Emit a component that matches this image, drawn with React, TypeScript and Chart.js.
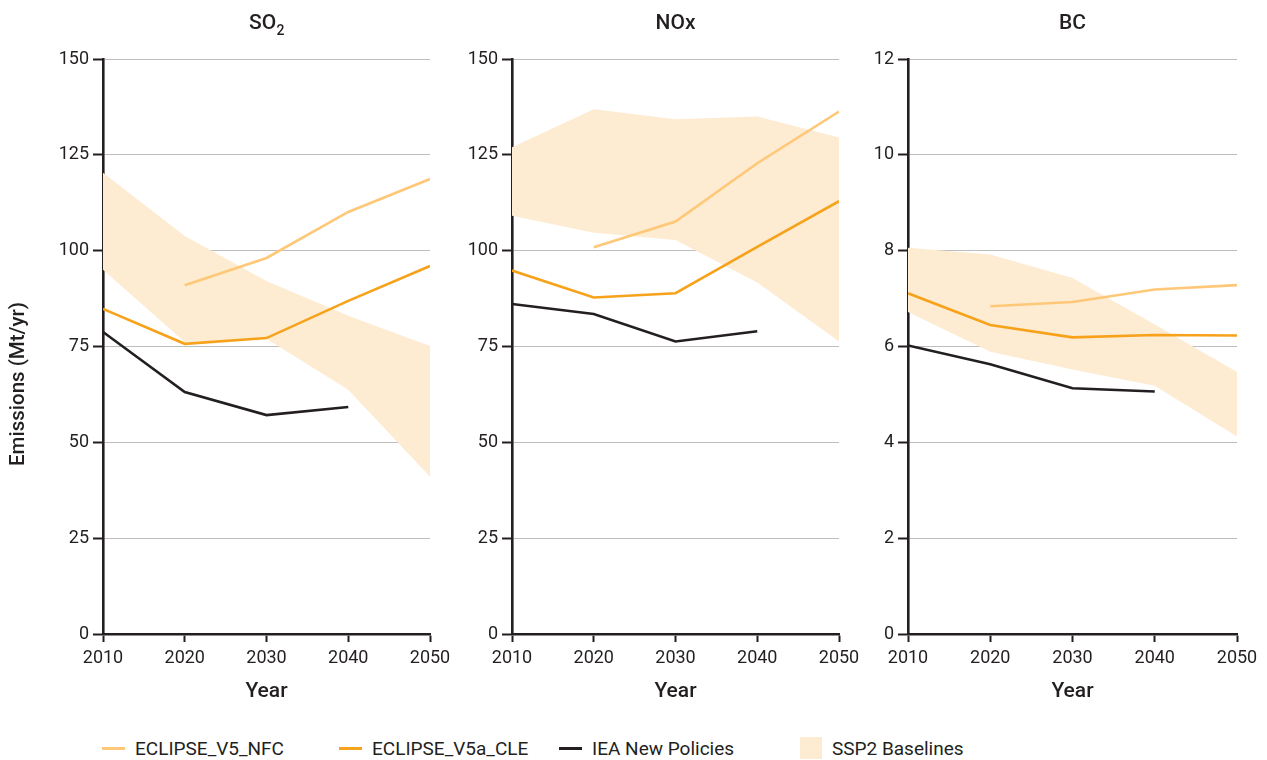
import React, { useEffect, useRef } from 'react';
import { Chart, registerables } from 'chart.js';

Chart.register(...registerables);

// ---------- data ----------
const years = [2010, 2020, 2030, 2040, 2050];

const so2Nfc = [null, 91.0, 98.1, 110.1, 118.7];
const so2Cle = [84.8, 75.7, 77.2, 86.9, 96.0];
const so2Iea = [78.8, 63.1, 57.1, 59.2, null];
const so2SspHigh = [120.3, 103.8, 92.1, 83.0, 75.1];
const so2SspLow = [95.0, 76.2, 77.0, 63.7, 41.0];

const noxNfc = [null, 100.9, 107.6, 122.8, 136.3];
const noxCle = [94.8, 87.8, 88.9, 101.0, 112.9];
const noxIea = [86.1, 83.5, 76.3, 79.0, null];
const noxSspHigh = [127.0, 136.9, 134.3, 135.0, 129.5];
const noxSspLow = [109.1, 104.7, 102.8, 91.7, 76.3];

const bcNfc = [null, 6.84, 6.93, 7.19, 7.28];
const bcCle = [7.11, 6.45, 6.19, 6.24, 6.23];
const bcIea = [6.02, 5.63, 5.13, 5.06, null];
const bcSspHigh = [8.06, 7.92, 7.43, 6.46, 5.47];
const bcSspLow = [6.72, 5.89, 5.52, 5.18, 4.12];

const seriesNames = ['ECLIPSE_V5_NFC', 'ECLIPSE_V5a_CLE', 'IEA New Policies', 'SSP2 Baselines'];
const panelTitles = ['SO', 'NOx', 'BC'];
const yAxisTitle = 'Emissions (Mt/yr)';
const xAxisTitle = 'Year';

// ---------- styles ----------
const TEXT = '#231F20';
const C_NFC = '#FFC878';
const C_CLE = '#F7A21B';
const C_IEA = '#231F20';
const C_BAND = '#FDEBD2';
const GRID = '#BDBDBD';
const FONT = 'Roboto, "Noto Sans", sans-serif';

const pts = (vals: (number | null)[]) =>
  years.map((x, i) => ({ x, y: vals[i] })).filter((p) => p.y !== null) as { x: number; y: number }[];

const titlePlugin = {
  id: 'panelDecor',
  afterDraw(chart: any, _args: any, opts: any) {
    const { ctx, chartArea } = chart;
    const cx = (chartArea.left + chartArea.right) / 2;
    ctx.save();
    ctx.fillStyle = TEXT;
    ctx.textBaseline = 'alphabetic';
    ctx.textAlign = 'left';
    const mainFont = `500 21px ${FONT}`;
    const subFont = `500 14px ${FONT}`;
    ctx.font = mainFont;
    const w1 = ctx.measureText(opts.text).width;
    let w2 = 0;
    if (opts.sub) {
      ctx.font = subFont;
      w2 = ctx.measureText(opts.sub).width;
    }
    const x0 = cx - (w1 + w2) / 2;
    ctx.font = mainFont;
    ctx.fillText(opts.text, x0, 29);
    if (opts.sub) {
      ctx.font = subFont;
      ctx.fillText(opts.sub, x0 + w1 + 0.5, 35);
    }
    if (opts.yTitle) {
      ctx.translate(19, 384);
      ctx.rotate(-Math.PI / 2);
      ctx.font = `500 20.5px ${FONT}`;
      ctx.textAlign = 'center';
      ctx.textBaseline = 'middle';
      ctx.fillText(opts.yTitle, 0, 0);
    }
    ctx.restore();
  },
};

type PanelProps = {
  left: number;
  width: number;
  yAxisWidth: number;
  max: number;
  step: number;
  title: string;
  sub?: string;
  yTitle?: string;
  nfc: (number | null)[];
  cle: (number | null)[];
  iea: (number | null)[];
  high: (number | null)[];
  low: (number | null)[];
};

function Panel(p: PanelProps) {
  const ref = useRef<HTMLCanvasElement>(null);
  useEffect(() => {
    if (!ref.current) return;
    const chart = new Chart(ref.current, {
      type: 'line',
      data: {
        datasets: [
          { label: seriesNames[2], data: pts(p.iea), borderColor: C_IEA, borderWidth: 2.6, pointRadius: 0, fill: false },
          { label: seriesNames[1], data: pts(p.cle), borderColor: C_CLE, borderWidth: 2.6, pointRadius: 0, fill: false },
          { label: seriesNames[0], data: pts(p.nfc), borderColor: C_NFC, borderWidth: 2.6, pointRadius: 0, fill: false },
          { label: 'low', data: pts(p.low), borderWidth: 0, borderColor: 'rgba(0,0,0,0)', pointRadius: 0, fill: false },
          {
            label: seriesNames[3],
            data: pts(p.high),
            borderWidth: 0,
            borderColor: 'rgba(0,0,0,0)',
            pointRadius: 0,
            backgroundColor: C_BAND,
            fill: '-1',
          },
        ],
      },
      options: {
        animation: false,
        responsive: false,
        layout: { padding: { top: 59, right: 30, bottom: 0, left: 0 } },
        plugins: {
          legend: { display: false },
          tooltip: { enabled: false },
          panelDecor: { text: p.title, sub: p.sub, yTitle: p.yTitle },
        } as any,
        scales: {
          x: {
            type: 'linear',
            min: 2010,
            max: 2050,
            border: { display: true, color: TEXT, width: 2.6 },
            grid: { drawOnChartArea: false, drawTicks: true, tickLength: 8, tickColor: TEXT, tickWidth: 2 } as any,
            ticks: {
              stepSize: 10,
              color: TEXT,
              font: { family: FONT, size: 18 },
              padding: 6,
              maxRotation: 0,
              callback: (v: any) => String(v),
            },
            title: {
              display: true,
              text: xAxisTitle,
              color: TEXT,
              font: { family: FONT, size: 21, weight: '500' as any },
              padding: { top: 0, bottom: 10 },
            },
            afterFit: (s: any) => {
              s.height = 80;
            },
          },
          y: {
            type: 'linear',
            min: 0,
            max: p.max,
            border: { display: true, color: TEXT, width: 2.6 },
            grid: { color: GRID, lineWidth: 1, tickLength: 10, tickColor: TEXT, tickWidth: 2 } as any,
            ticks: {
              stepSize: p.step,
              color: TEXT,
              font: { family: FONT, size: 18 },
              padding: 4,
            },
            afterFit: (s: any) => {
              s.width = p.yAxisWidth;
            },
          },
        },
      },
      plugins: [titlePlugin],
    } as any);
    return () => chart.destroy();
  }, []);
  return (
    <canvas
      ref={ref}
      width={p.width}
      height={714}
      style={{ position: 'absolute', left: p.left, top: 0, width: p.width, height: 714 }}
    />
  );
}

function LegendItem({ left, color, label, box }: { left: number; color: string; label: string; box?: boolean }) {
  return (
    <div style={{ position: 'absolute', left, top: 736, height: 24, display: 'flex', alignItems: 'center' }}>
      {box ? (
        <div style={{ width: 22, height: 22, background: color, marginRight: 10 }} />
      ) : (
        <div style={{ width: 23, height: 3, background: color, marginRight: 10 }} />
      )}
      <span style={{ fontFamily: FONT, fontSize: 19, color: TEXT, whiteSpace: 'nowrap' }}>{label}</span>
    </div>
  );
}

export default function App() {
  return (
    <div style={{ position: 'absolute', left: 0, top: 0, width: 1267, height: 760, background: '#fff', overflow: 'hidden' }}>
      <Panel left={0} width={460} yAxisWidth={103} max={150} step={25} title={panelTitles[0]} sub="2" yTitle={yAxisTitle}
        nfc={so2Nfc} cle={so2Cle} iea={so2Iea} high={so2SspHigh} low={so2SspLow} />
      <Panel left={460} width={409} yAxisWidth={52} max={150} step={25} title={panelTitles[1]}
        nfc={noxNfc} cle={noxCle} iea={noxIea} high={noxSspHigh} low={noxSspLow} />
      <Panel left={869} width={398} yAxisWidth={39} max={12} step={2} title={panelTitles[2]}
        nfc={bcNfc} cle={bcCle} iea={bcIea} high={bcSspHigh} low={bcSspLow} />
      <LegendItem left={102} color={C_NFC} label={seriesNames[0]} />
      <LegendItem left={339} color={C_CLE} label={seriesNames[1]} />
      <LegendItem left={559} color={C_IEA} label={seriesNames[2]} />
      <LegendItem left={800} color={C_BAND} label={seriesNames[3]} box />
    </div>
  );
}
